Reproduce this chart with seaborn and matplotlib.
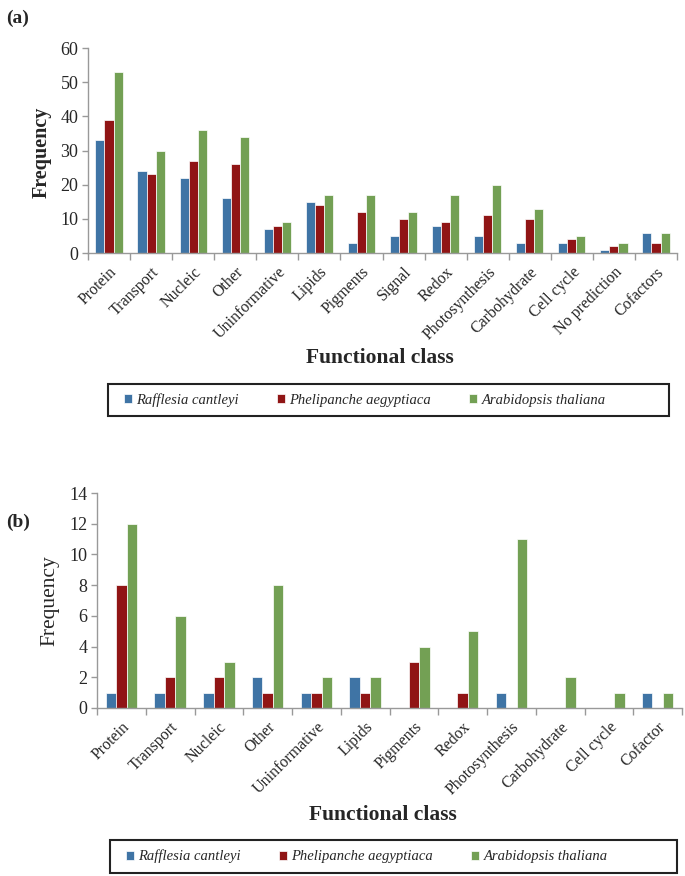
import pandas as pd
import numpy as np
import matplotlib
matplotlib.use('Agg')
import matplotlib.pyplot as plt
from matplotlib.patches import Rectangle
import seaborn as sns

# Species and colours
species = ['Rafflesia cantleyi', 'Phelipanche aegyptiaca', 'Arabidopsis thaliana']
colors = ['#2E75B6', '#A50000', '#70AD47']

# Panel (a) data
classes_a = ['Protein', 'Transport', 'Nucleic', 'Other', 'Uninformative', 'Lipids',
             'Pigments', 'Signal', 'Redox', 'Photosynthesis', 'Carbohydrate',
             'Cell cycle', 'No prediction', 'Cofactors']
rafflesia_a = [33, 24, 22, 16, 7, 15, 3, 5, 8, 5, 3, 3, 1, 6]
phelipanche_a = [39, 23, 27, 26, 8, 14, 12, 10, 9, 11, 10, 4, 2, 3]
arabidopsis_a = [53, 30, 36, 34, 9, 17, 17, 12, 17, 20, 13, 5, 3, 6]

# Panel (b) data
classes_b = ['Protein', 'Transport', 'Nucleic', 'Other', 'Uninformative', 'Lipids',
             'Pigments', 'Redox', 'Photosynthesis', 'Carbohydrate', 'Cell cycle', 'Cofactor']
rafflesia_b = [1, 1, 1, 2, 1, 2, 0, 0, 1, 0, 0, 1]
phelipanche_b = [8, 2, 2, 1, 1, 1, 3, 1, 0, 0, 0, 0]
arabidopsis_b = [12, 6, 3, 8, 2, 2, 4, 5, 11, 2, 1, 1]


def long_df(classes, r, p, a):
    rows = []
    for sp, vals in zip(species, [r, p, a]):
        for c, v in zip(classes, vals):
            rows.append({'Class': c, 'Species': sp, 'Frequency': v})
    return pd.DataFrame(rows)


df_a = long_df(classes_a, rafflesia_a, phelipanche_a, arabidopsis_a)
df_b = long_df(classes_b, rafflesia_b, phelipanche_b, arabidopsis_b)

sns.set_style('white')
plt.rcParams['font.family'] = ['Liberation Serif', 'DejaVu Serif']

W, H = 685, 876
fig = plt.figure(figsize=(W / 100, H / 100), dpi=100)


def px_axes(left, right, top, bottom):
    return fig.add_axes([left / W, 1 - bottom / H, (right - left) / W, (bottom - top) / H])


def style_axis(ax, classes, ymax, step):
    n = len(classes)
    ax.set_xlim(-0.5, n - 0.5)
    ax.set_ylim(0, ymax)
    ax.set_yticks(np.arange(0, ymax + 1, step))
    ax.set_xticks(range(n))
    ax.set_xticklabels(classes, rotation=45, ha='right', rotation_mode='anchor', fontsize=11.5)
    ax.set_xticks(np.arange(-0.5, n, 1), minor=True)
    ax.tick_params(axis='x', which='major', length=0, pad=8)
    ax.tick_params(axis='x', which='minor', length=5, color='#999999', width=1, direction='out', bottom=True)
    ax.tick_params(axis='y', length=4, color='#999999', width=1, direction='out', left=True, labelsize=13, pad=3)
    for s in ['top', 'right']:
        ax.spines[s].set_visible(False)
    for s in ['left', 'bottom']:
        ax.spines[s].set_color('#999999')
        ax.spines[s].set_linewidth(1)
    ax.set_xlabel('')
    ax.set_ylabel('')


def draw_legend(ax, left, right, top, bottom, first_x):
    handles, labels = ax.get_legend_handles_labels()
    if ax.get_legend() is not None:
        ax.get_legend().remove()
    # box drawn separately so its width matches the original
    fig.patches.append(Rectangle((left / W, 1 - bottom / H), (right - left) / W, (bottom - top) / H,
                                 transform=fig.transFigure, fill=False,
                                 edgecolor='#222222', linewidth=1.5))
    fig.legend(handles, labels, loc='center left', ncol=3,
               bbox_to_anchor=(first_x / W, 1 - (top + bottom) / 2 / H),
               borderaxespad=0, borderpad=0, frameon=False,
               prop={'style': 'italic', 'size': 10.5},
               handlelength=0.55, handleheight=0.55, handletextpad=0.3,
               columnspacing=2.6)


# Panel (a)
ax1 = px_axes(88, 677, 48, 253)
sns.barplot(data=df_a, x='Class', y='Frequency', hue='Species', palette=colors,
            width=0.65, edgecolor='white', linewidth=0.5, ax=ax1, errorbar=None)
style_axis(ax1, classes_a, 60, 10)
draw_legend(ax1, 108, 669, 384, 416, 124)
fig.text(42 / W, 1 - 152 / H, 'Frequency', rotation=90, ha='center', va='center',
         fontsize=14.5, fontweight='bold')
fig.text(380 / W, 1 - 358 / H, 'Functional class', ha='center', va='center',
         fontsize=15.5, fontweight='bold')
fig.text(6 / W, 1 - 18 / H, '(a)', ha='left', va='center', fontsize=14, fontweight='bold')

# Panel (b)
ax2 = px_axes(97, 682, 493, 708)
sns.barplot(data=df_b, x='Class', y='Frequency', hue='Species', palette=colors,
            width=0.65, edgecolor='white', linewidth=0.5, ax=ax2, errorbar=None)
style_axis(ax2, classes_b, 14, 2)
draw_legend(ax2, 110, 677, 840, 873, 126)
fig.text(50 / W, 1 - 601 / H, 'Frequency', rotation=90, ha='center', va='center',
         fontsize=15.5)
fig.text(383 / W, 1 - 815 / H, 'Functional class', ha='center', va='center',
         fontsize=15.5, fontweight='bold')
fig.text(6 / W, 1 - 522 / H, '(b)', ha='left', va='center', fontsize=14, fontweight='bold')

fig.savefig('out.png', dpi=100)
